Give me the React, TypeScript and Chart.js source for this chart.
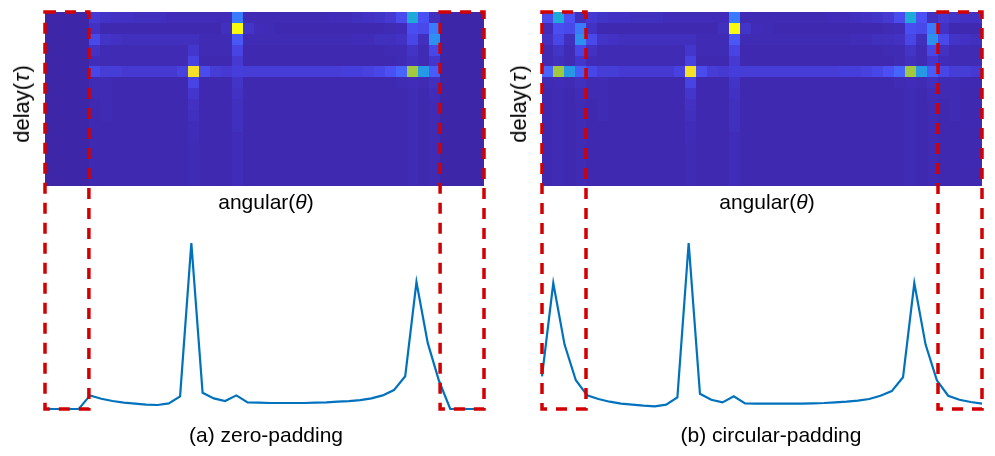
import React, { useEffect, useRef } from 'react';
import { Chart, registerables } from 'chart.js';

Chart.register(...registerables);

// ---------- data ----------
// 1-D angular profiles (normalised magnitude), 40 angular bins incl. 4+4 padding bins
const zeroPaddingProfile = [
  0, 0, 0, 0, 0.082, 0.062, 0.048, 0.038, 0.032, 0.026,
  0.024, 0.034, 0.076, 1.0, 0.098, 0.064, 0.048, 0.082, 0.04, 0.038,
  0.036, 0.036, 0.036, 0.036, 0.038, 0.04, 0.044, 0.048, 0.054, 0.064,
  0.082, 0.114, 0.197, 0.765, 0.398, 0.17, 0, 0, 0, 0,
];
const circularPaddingProfile = [
  0.197, 0.759, 0.388, 0.173, 0.082, 0.06, 0.044, 0.032, 0.026, 0.02,
  0.016, 0.026, 0.07, 1.0, 0.092, 0.056, 0.04, 0.076, 0.034, 0.032,
  0.032, 0.032, 0.032, 0.032, 0.034, 0.036, 0.04, 0.044, 0.05, 0.06,
  0.08, 0.108, 0.191, 0.759, 0.388, 0.173, 0.08, 0.056, 0.042, 0.032,
];

// delay-angular map: 16 delay rows x 32 angular bins (before padding)
const delayRow0 = [0.09, 0.07, 0.06, 0.06, 0.05, 0.05, 0.05, 0.04, 0.04, 0.04, 0.04, 0.04, 0.04, 0.30, 0.03, 0.03, 0.03, 0.03, 0.03, 0.03, 0.03, 0.03, 0.04, 0.04, 0.05, 0.06, 0.07, 0.09, 0.16, 0.48, 0.18, 0.05];
const delayRow1 = [0.06, 0.02, 0.02, 0.02, 0.02, 0.02, 0.02, 0.02, 0.02, 0.02, 0.02, 0.02, 0.05, 1.00, 0.07, 0.04, 0.03, 0.02, 0.02, 0.02, 0.02, 0.02, 0.02, 0.02, 0.02, 0.02, 0.02, 0.03, 0.04, 0.17, 0.15, 0.30];
const delayRow2 = [0.15, 0.07, 0.06, 0.05, 0.05, 0.05, 0.05, 0.05, 0.05, 0.05, 0.03, 0.03, 0.03, 0.20, 0.03, 0.03, 0.03, 0.03, 0.03, 0.03, 0.03, 0.03, 0.03, 0.03, 0.04, 0.04, 0.05, 0.05, 0.06, 0.14, 0.05, 0.38];
const delayRow3 = [0.06, 0.03, 0.03, 0.03, 0.03, 0.03, 0.03, 0.03, 0.03, 0.08, 0.03, 0.03, 0.03, 0.13, 0.02, 0.02, 0.02, 0.02, 0.02, 0.02, 0.02, 0.02, 0.02, 0.02, 0.02, 0.02, 0.02, 0.03, 0.03, 0.07, 0.03, 0.14];
const delayRow4 = [0.04, 0.03, 0.03, 0.03, 0.03, 0.03, 0.03, 0.03, 0.03, 0.12, 0.02, 0.02, 0.02, 0.09, 0.02, 0.02, 0.02, 0.02, 0.02, 0.02, 0.02, 0.02, 0.02, 0.02, 0.02, 0.02, 0.02, 0.02, 0.03, 0.05, 0.03, 0.08];
const delayRow5 = [0.14, 0.10, 0.10, 0.09, 0.09, 0.09, 0.09, 0.09, 0.12, 0.95, 0.16, 0.10, 0.09, 0.11, 0.10, 0.10, 0.10, 0.10, 0.10, 0.10, 0.10, 0.10, 0.10, 0.11, 0.11, 0.12, 0.14, 0.18, 0.24, 0.75, 0.42, 0.22];
const delayRow6 = [0.03, 0.03, 0.02, 0.02, 0.02, 0.02, 0.02, 0.02, 0.02, 0.13, 0.02, 0.02, 0.02, 0.07, 0.02, 0.02, 0.02, 0.02, 0.02, 0.02, 0.02, 0.02, 0.02, 0.02, 0.02, 0.02, 0.02, 0.02, 0.03, 0.04, 0.03, 0.05];
const delayRow7 = [0.03, 0.03, 0.02, 0.02, 0.02, 0.02, 0.02, 0.02, 0.02, 0.08, 0.02, 0.02, 0.02, 0.06, 0.02, 0.02, 0.02, 0.02, 0.02, 0.02, 0.02, 0.02, 0.02, 0.02, 0.02, 0.02, 0.02, 0.02, 0.02, 0.03, 0.02, 0.04];
const delayRow8 = [0.02, 0.03, 0.02, 0.02, 0.02, 0.02, 0.02, 0.02, 0.02, 0.06, 0.02, 0.02, 0.02, 0.05, 0.02, 0.02, 0.02, 0.02, 0.02, 0.02, 0.02, 0.02, 0.02, 0.02, 0.02, 0.02, 0.02, 0.02, 0.02, 0.03, 0.02, 0.03];
const delayRow9 = [0.02, 0.03, 0.02, 0.02, 0.02, 0.02, 0.02, 0.02, 0.02, 0.05, 0.02, 0.02, 0.02, 0.05, 0.02, 0.02, 0.02, 0.02, 0.02, 0.02, 0.02, 0.02, 0.02, 0.02, 0.02, 0.02, 0.02, 0.02, 0.02, 0.03, 0.02, 0.03];
const delayRow10 = [0.02, 0.02, 0.02, 0.02, 0.02, 0.02, 0.02, 0.02, 0.02, 0.04, 0.02, 0.02, 0.02, 0.05, 0.02, 0.02, 0.02, 0.02, 0.02, 0.02, 0.02, 0.02, 0.02, 0.02, 0.02, 0.02, 0.02, 0.02, 0.02, 0.03, 0.02, 0.03];
const delayRow11 = [0.02, 0.02, 0.02, 0.02, 0.02, 0.02, 0.02, 0.02, 0.02, 0.04, 0.02, 0.02, 0.02, 0.04, 0.02, 0.02, 0.02, 0.02, 0.02, 0.02, 0.02, 0.02, 0.02, 0.02, 0.02, 0.02, 0.02, 0.02, 0.02, 0.03, 0.02, 0.03];
const delayRow12 = [0.02, 0.02, 0.02, 0.02, 0.02, 0.02, 0.02, 0.02, 0.02, 0.03, 0.02, 0.02, 0.02, 0.04, 0.02, 0.02, 0.02, 0.02, 0.02, 0.02, 0.02, 0.02, 0.02, 0.02, 0.02, 0.02, 0.02, 0.02, 0.02, 0.03, 0.02, 0.03];
const delayRow13 = [0.02, 0.02, 0.02, 0.02, 0.02, 0.02, 0.02, 0.02, 0.02, 0.03, 0.02, 0.02, 0.02, 0.04, 0.02, 0.02, 0.02, 0.02, 0.02, 0.02, 0.02, 0.02, 0.02, 0.02, 0.02, 0.02, 0.02, 0.02, 0.02, 0.03, 0.02, 0.03];
const delayRow14 = [0.02, 0.02, 0.02, 0.02, 0.02, 0.02, 0.02, 0.02, 0.02, 0.03, 0.02, 0.02, 0.02, 0.04, 0.02, 0.02, 0.02, 0.02, 0.02, 0.02, 0.02, 0.02, 0.02, 0.02, 0.02, 0.02, 0.02, 0.02, 0.02, 0.03, 0.02, 0.03];
const delayRow15 = [0.02, 0.02, 0.02, 0.02, 0.02, 0.02, 0.02, 0.02, 0.02, 0.03, 0.02, 0.02, 0.02, 0.04, 0.02, 0.02, 0.02, 0.02, 0.02, 0.02, 0.02, 0.02, 0.02, 0.02, 0.02, 0.02, 0.02, 0.02, 0.02, 0.03, 0.02, 0.03];

const delayRows = [
  delayRow0, delayRow1, delayRow2, delayRow3, delayRow4, delayRow5, delayRow6, delayRow7,
  delayRow8, delayRow9, delayRow10, delayRow11, delayRow12, delayRow13, delayRow14, delayRow15,
];

const PAD_BINS = 4;
const zeroPadRow = (row: number[]) => [
  ...new Array(PAD_BINS).fill(0), ...row, ...new Array(PAD_BINS).fill(0),
];
const circularPadRow = (row: number[]) => [
  ...row.slice(row.length - PAD_BINS), ...row, ...row.slice(0, PAD_BINS),
];

const zeroGrid = delayRows.map(zeroPadRow);
const circularGrid = delayRows.map(circularPadRow);

// ---------- styling ----------
const PARULA: [number, number, number, number][] = [
  [0.0, 62, 38, 168],
  [0.04, 64, 44, 185],
  [0.08, 68, 54, 205],
  [0.13, 72, 68, 228],
  [0.18, 74, 80, 243],
  [0.24, 70, 100, 255],
  [0.30, 58, 122, 255],
  [0.38, 45, 144, 238],
  [0.45, 32, 160, 224],
  [0.50, 27, 176, 207],
  [0.62, 60, 195, 150],
  [0.75, 162, 200, 64],
  [0.88, 250, 190, 60],
  [0.95, 245, 224, 40],
  [1.0, 249, 251, 14],
];

function parula(v: number): string {
  const t = Math.max(0, Math.min(1, v));
  for (let i = 1; i < PARULA.length; i++) {
    const a = PARULA[i - 1];
    const b = PARULA[i];
    if (t <= b[0]) {
      const f = (t - a[0]) / (b[0] - a[0]);
      const r = Math.round(a[1] + (b[1] - a[1]) * f);
      const g = Math.round(a[2] + (b[2] - a[2]) * f);
      const bl = Math.round(a[3] + (b[3] - a[3]) * f);
      return `rgb(${r},${g},${bl})`;
    }
  }
  return 'rgb(249,251,14)';
}

const heatmapPlugin = {
  id: 'heatmapPanel',
  beforeDatasetsDraw(chart: any, _args: any, opts: any) {
    const grid: number[][] = opts.grid;
    const xs = chart.scales.xh;
    const ys = chart.scales.yh;
    const ctx = chart.ctx;
    ctx.save();
    grid.forEach((row, r) => {
      row.forEach((v, c) => {
        const x0 = Math.round(xs.getPixelForValue(c));
        const x1 = Math.round(xs.getPixelForValue(c + 1));
        const y0 = Math.round(ys.getPixelForValue(r));
        const y1 = Math.round(ys.getPixelForValue(r + 1));
        ctx.fillStyle = parula(v);
        ctx.fillRect(x0, y0, x1 - x0, y1 - y0);
      });
    });
    ctx.restore();
  },
  afterDatasetsDraw(chart: any, _args: any, opts: any) {
    const xs = chart.scales.xh;
    const top = chart.scales.yh.getPixelForValue(0);
    const bottom = chart.scales.y.getPixelForValue(0);
    const ctx = chart.ctx;
    ctx.save();
    ctx.strokeStyle = '#d20000';
    ctx.lineWidth = 3.5;
    ctx.setLineDash([11, 9]);
    const spans: [number, number][] = opts.boxes;
    spans.forEach(([c0, c1]) => {
      const x0 = xs.getPixelForValue(c0);
      const x1 = xs.getPixelForValue(c1);
      ctx.strokeRect(x0, top, x1 - x0, bottom - top);
    });
    ctx.restore();
  },
};

const FONT = '"Liberation Sans", Arial, Helvetica, sans-serif';

function Panel(props: {
  left: number;
  width: number;
  pad: { left: number; right: number; top: number; bottom: number };
  grid: number[][];
  profile: number[];
}) {
  const ref = useRef<HTMLCanvasElement | null>(null);
  useEffect(() => {
    if (!ref.current) return;
    const n = props.profile.length;
    const chart = new Chart(ref.current, {
      type: 'line',
      data: {
        datasets: [
          {
            data: props.profile.map((v, i) => ({ x: i, y: v })),
            xAxisID: 'x',
            yAxisID: 'y',
            borderColor: '#0072BD',
            borderWidth: 2.2,
            pointRadius: 0,
            tension: 0,
            fill: false,
            clip: false as any,
          },
        ],
      },
      options: {
        animation: false,
        responsive: false,
        devicePixelRatio: 1,
        layout: { padding: props.pad },
        plugins: {
          legend: { display: false },
          tooltip: { enabled: false },
          heatmapPanel: {
            grid: props.grid,
            boxes: [
              [0, PAD_BINS],
              [n - PAD_BINS, n],
            ],
          },
        } as any,
        scales: {
          x: { type: 'linear', min: 0, max: n - 1, display: false },
          xh: { type: 'linear', axis: 'x', position: 'bottom', min: 0, max: n, display: false },
          yh: {
            type: 'linear', axis: 'y', position: 'left', min: 0, max: props.grid.length,
            reverse: true, display: false, stack: 'panel', stackWeight: 174, weight: 3,
          },
          yg: {
            type: 'linear', axis: 'y', position: 'left', min: 0, max: 1,
            display: false, stack: 'panel', stackWeight: 57, weight: 2,
          },
          y: {
            type: 'linear', position: 'left', min: 0, max: 1,
            display: false, stack: 'panel', stackWeight: 166, weight: 1,
          },
        } as any,
      },
      plugins: [heatmapPlugin as any],
    });
    return () => chart.destroy();
  }, []);
  return (
    <canvas
      ref={ref}
      width={props.width}
      height={456}
      style={{ position: 'absolute', left: props.left, top: 0, width: props.width, height: 456 }}
    />
  );
}

const textBase: React.CSSProperties = {
  position: 'absolute',
  fontFamily: FONT,
  fontSize: 21,
  lineHeight: '21px',
  color: '#000',
  whiteSpace: 'nowrap',
};

function DelayLabel({ cx }: { cx: number }) {
  return (
    <div
      style={{
        ...textBase,
        fontSize: 22,
        lineHeight: '22px',
        left: cx,
        top: 104,
        transform: 'translate(-50%, -50%) rotate(-90deg)',
      }}
    >
      delay(<span style={{ fontStyle: 'italic', padding: '0 1px' }}>τ</span>)
    </div>
  );
}

function CenterText({ cx, top, children }: { cx: number; top: number; children: React.ReactNode }) {
  return (
    <div style={{ ...textBase, left: cx, top, transform: 'translateX(-50%)' }}>{children}</div>
  );
}

export default function App() {
  return (
    <div
      style={{
        position: 'fixed',
        left: 0,
        top: 0,
        width: 995,
        height: 456,
        background: '#fff',
        overflow: 'hidden',
      }}
    >
      <Panel
        left={0}
        width={495}
        pad={{ left: 45, right: 11, top: 12, bottom: 47 }}
        grid={zeroGrid}
        profile={zeroPaddingProfile}
      />
      <Panel
        left={495}
        width={500}
        pad={{ left: 47, right: 13, top: 12, bottom: 47 }}
        grid={circularGrid}
        profile={circularPaddingProfile}
      />
      <DelayLabel cx={22} />
      <DelayLabel cx={519} />
      <CenterText cx={266} top={191}>
        angular(<span style={{ fontStyle: 'italic' }}>θ</span>)
      </CenterText>
      <CenterText cx={767} top={191}>
        angular(<span style={{ fontStyle: 'italic' }}>θ</span>)
      </CenterText>
      <CenterText cx={266} top={424}>(a) zero-padding</CenterText>
      <CenterText cx={771} top={424}>(b) circular-padding</CenterText>
    </div>
  );
}
